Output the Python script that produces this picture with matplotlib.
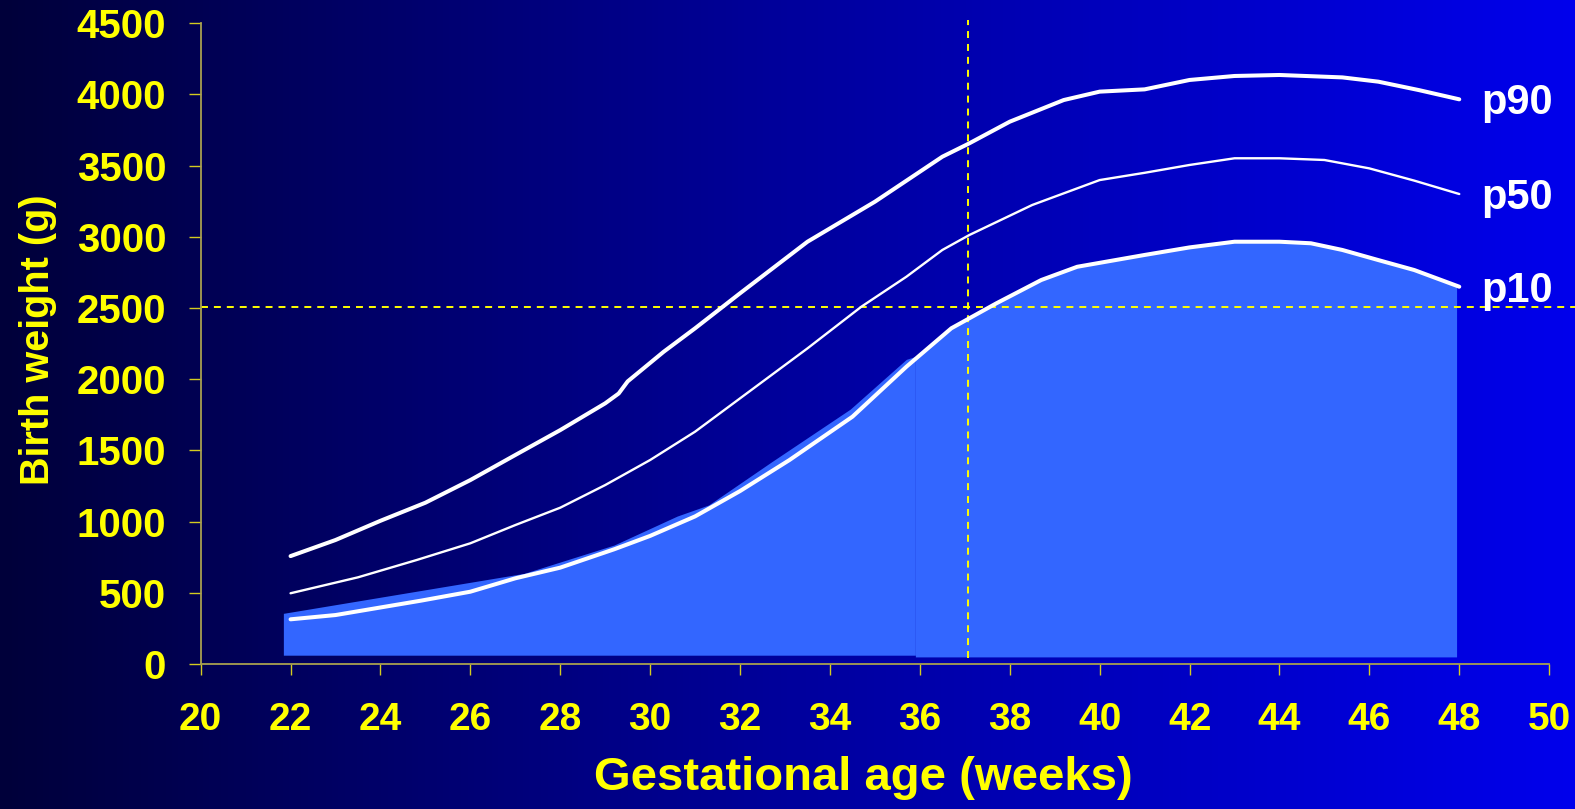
import numpy as np
import matplotlib.pyplot as plt
from matplotlib.colors import LinearSegmentedColormap

# percentile curves (weeks, grams)
weeks_p90 = [22, 23, 24, 25, 26, 27, 28, 29, 29.3, 29.5, 30.3, 31, 32, 33.5, 35,
             36.5, 37.1, 38, 39.2, 40, 41, 42, 43, 44, 45.4, 46.2, 47.1, 48]
p90 = [758, 871, 1006, 1133, 1292, 1468, 1643, 1831, 1900, 1985, 2193, 2358, 2604, 2966, 3247,
       3563, 3657, 3809, 3961, 4020, 4036, 4102, 4130, 4137, 4120, 4090, 4031, 3966]

weeks_p50 = [22, 23.5, 24.8, 26, 27, 28, 29, 30, 31, 32, 33.5, 34.7, 35.7, 36.5, 37.1,
             38.5, 40, 41, 42, 43, 44, 45, 46, 47, 48]
p50 = [497, 609, 730, 848, 976, 1098, 1257, 1433, 1632, 1866, 2217, 2510, 2720, 2908, 3013,
       3224, 3399, 3450, 3505, 3552, 3552, 3540, 3481, 3395, 3301]

weeks_p10 = [22, 23, 24.9, 26, 27, 28, 29.2, 30, 31, 32, 33.1, 34.5, 35.7, 36.7, 37.1,
             37.7, 38.7, 39.5, 41, 42, 43, 44, 44.7, 45.4, 46.2, 47, 48]
p10 = [314, 344, 445, 508, 602, 677, 806, 900, 1037, 1215, 1433, 1737, 2088, 2358, 2428,
       2533, 2697, 2790, 2873, 2926, 2966, 2966, 2955, 2908, 2837, 2767, 2650]

# shaded area below p10 (two pieces on the slide)
fill_left_x = [21.84, 27.2, 29.2, 30.6, 31.3, 32.7, 34.45, 35.7, 35.9]
fill_left_top = [356, 637, 836, 1039, 1117, 1420, 1790, 2140, 2160]
fill_left_base = 62
fill_right_x = [35.9, 36.7, 37.1, 37.7, 38.7, 39.5, 41, 42, 43, 44, 44.7, 45.4, 46.2, 47, 47.94]
fill_right_top = [2150, 2358, 2428, 2533, 2697, 2790, 2873, 2926, 2966, 2966, 2955, 2908,
                  2837, 2767, 2650]
fill_right_base = 50

cut_week = 37.08
cut_weight = 2510

curve_labels = ['p90', 'p50', 'p10']

plt.rcParams['font.family'] = ['Liberation Sans', 'DejaVu Sans']
plt.rcParams['font.weight'] = 'bold'
plt.rcParams['lines.scale_dashes'] = False

yellow = '#ffff00'

fig = plt.figure(figsize=(15.75, 8.09), dpi=100)

# background gradient
bg = fig.add_axes([0, 0, 1, 1])
bg.set_zorder(-5)
grad = np.linspace(0, 1, 512).reshape(1, -1)
cmap = LinearSegmentedColormap.from_list('bg', ['#00003a', '#00009c', '#0000ec'])
bg.imshow(grad, aspect='auto', cmap=cmap, extent=[0, 1, 0, 1])
bg.axis('off')

ax = fig.add_axes([0.1274, 0.1792, 0.8562, 0.792])
ax.patch.set_alpha(0)

ax.fill_between(fill_left_x, fill_left_base, fill_left_top, color='#3366ff', lw=0, zorder=1)
ax.fill_between(fill_right_x, fill_right_base, fill_right_top, color='#3366ff', lw=0, zorder=1)

ax.plot(weeks_p90, p90, color='white', lw=2.9, solid_capstyle='round', solid_joinstyle='round', zorder=3)
ax.plot(weeks_p50, p50, color='white', lw=1.7, solid_capstyle='round', solid_joinstyle='round', zorder=3)
ax.plot(weeks_p10, p10, color='white', lw=2.9, solid_capstyle='round', solid_joinstyle='round', zorder=3)

for lab, xs, ys in zip(curve_labels, [weeks_p90, weeks_p50, weeks_p10], [p90, p50, p10]):
    ax.annotate(lab, (xs[-1], ys[-1]), xytext=(16, -10.8), textcoords='offset points',
                ha='left', va='baseline', color='white', fontsize=30, fontweight='bold',
                annotation_clip=False, zorder=4)

ax.axhline(cut_weight, xmin=0, xmax=1.02, color=yellow, lw=1.4, dashes=(5, 4.3),
           clip_on=False, zorder=2)
ax.axvline(cut_week, ymin=0.009, ymax=1.005, color=yellow, lw=1.4, dashes=(5, 4.3),
           clip_on=False, zorder=2)

ax.set_xlim(20, 50)
ax.set_ylim(0, 4500)
ax.set_xticks(range(20, 51, 2))
ax.set_yticks(range(0, 4501, 500))

for s in ['top', 'right']:
    ax.spines[s].set_visible(False)
for s in ['left', 'bottom']:
    ax.spines[s].set_color('#a8a050')
    ax.spines[s].set_linewidth(1.3)

ax.tick_params(axis='x', direction='out', length=7.7, width=1, color='#d4cc20',
               pad=20, labelsize=28, labelcolor=yellow)
ax.tick_params(axis='y', direction='out', length=8.9, width=1, color='#d4cc20',
               pad=16, labelsize=29, labelcolor=yellow)
for t in ax.get_xticklabels() + ax.get_yticklabels():
    t.set_fontweight('bold')

fig.text(863 / 1575, 1 - 778 / 809, 'Gestational age (weeks)', ha='center', va='center',
         color=yellow, fontsize=34, fontweight='bold')
fig.text(38 / 1575, 1 - 340 / 809, 'Birth weight (g)', ha='center', va='center',
         rotation=90, color=yellow, fontsize=28.5, fontweight='bold')

fig.savefig('out.png', dpi=100)
